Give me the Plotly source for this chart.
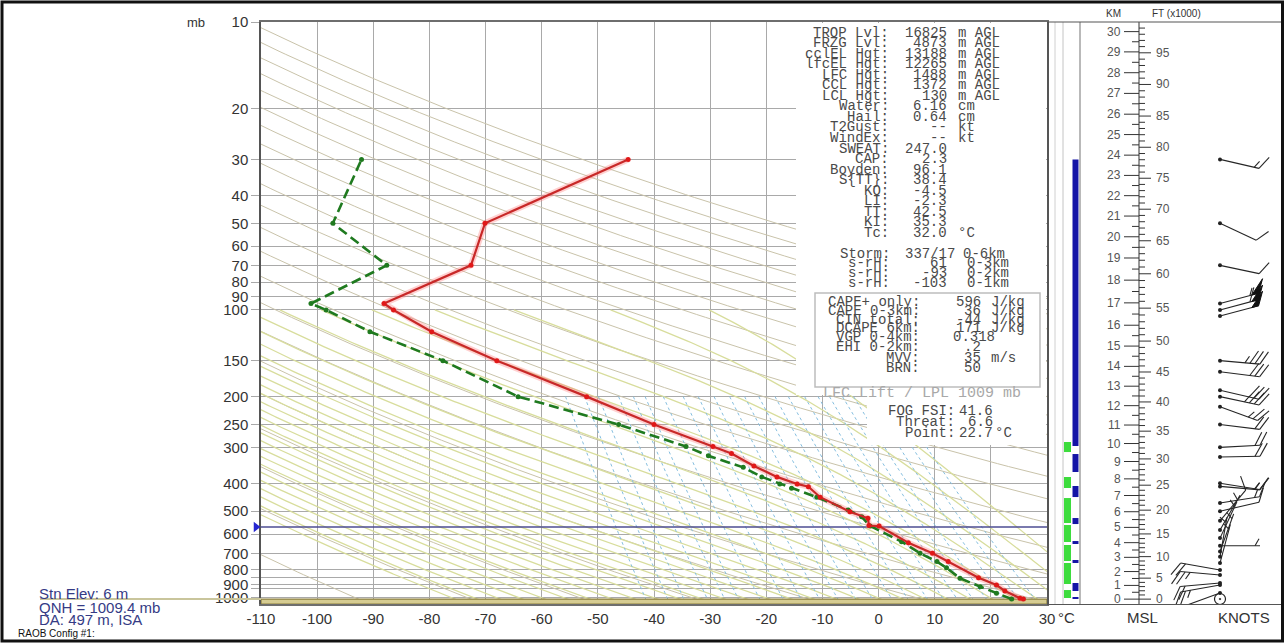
import numpy as np
import plotly.graph_objects as go

W, H = 1285, 643

# ---------------- sounding (pressure mb, temperature C) ----------------
T_P = [1009, 1003, 946, 902, 851, 748, 700, 643, 563, 561, 529, 502, 447, 411, 402, 380,
       348, 315, 298, 250, 200, 150, 119, 100, 95, 70, 50, 30]
T_C = [25.8, 25.2, 22.5, 21.0, 17.8, 12.4, 9.6, 5.3, 0.1, -1.7, -1.9, -5.1, -10.4, -12.5,
       -14.5, -18.1, -22.2, -26.2, -29.5, -40.0, -52.0, -68.0, -79.6, -86.4, -88.1, -72.6,
       -70.1, -44.6]
TD_P = [1009, 964, 914, 855, 786, 748, 700, 638, 563, 523, 495, 447, 416, 402, 380, 352,
        321, 298, 250, 200, 150, 119, 100, 95, 70, 50, 30]
TD_C = [23.7, 21.0, 18.1, 14.5, 12.1, 10.4, 7.4, 4.1, -1.5, -3.0, -5.4, -11.0, -15.5, -17.6,
        -20.8, -24.1, -30.3, -34.3, -46.3, -64.2, -77.6, -90.6, -98.4, -101.1, -87.6, -97.2,
        -92.1]

# ---------------- winds ----------------
WIND_P = [1009, 962, 902, 888, 833, 800, 757, 720, 690, 659, 620, 581, 540, 500, 468, 410,
          400, 324, 300, 250, 217, 200, 190, 164, 150, 105, 100, 95, 70, 50, 30]
WIND_DIR = [0, 250, 260, 265, 275, 280, 15, 10, 20, 90, 25, 30, 40, 77, 81, 95,
            99, 89, 87, 97, 110, 102, 103, 97, 95, 75, 75, 75, 102, 115, 103]
WIND_KT = [0, 15, 25, 20, 25, 20, 5, 5, 5, 5, 5, 5, 10, 10, 15, 15,
           15, 20, 20, 20, 25, 35, 30, 30, 35, 50, 60, 55, 10, 10, 15]

# ---------------- strip layers (pressure bottom / top) ----------------
GREEN_BOT = [311.5, 415.3, 549.5, 639.6, 744.6, 895, 1001]
GREEN_TOP = [287.4, 380.3, 450, 558.4, 655.2, 756.5, 939]
BLUE_BOT = [296.9, 365.4, 446.4, 554, 650, 756.5, 946.5, 1009]
BLUE_TOP = [30, 316.5, 408.7, 528, 634.6, 738.6, 887.8, 992.9]

# ---------------- height scale (km MSL -> pressure) ----------------
KM_LABELS = list(range(0, 31))
KM_P = [1010, 905, 810, 723, 643, 569, 502, 441, 386, 336, 291, 251, 215, 184, 157, 133.5,
        113, 94.5, 78.8, 66.0, 55.7, 47.2, 40.1, 34.1, 29.0, 24.6, 20.9, 17.7, 15.0, 12.7, 10.8]

P_TICKS = [10, 20, 30, 40, 50, 60, 70, 80, 90, 100, 150, 200, 250, 300, 400, 500, 600,
           700, 800, 900, 1000]
P_EXTRA = [850, 925]
T_TICKS = list(range(-110, 31, 10))

SURFACE_P = 1009.4
FRZ_P = 567

ROWS1 = [("TROP Lvl:", "16825", "m AGL"), ("FRZG Lvl:", "4873", "m AGL"),
         ("cclEL Hgt:", "13188", "m AGL"), ("lfcEL Hgt:", "12265", "m AGL"),
         ("LFC Hgt:", "1488", "m AGL"), ("CCL Hgt:", "1372", "m AGL"),
         ("LCL Hgt:", "130", "m AGL"), ("Water:", "6.16", "cm"), ("Hail:", "0.64", "cm"),
         ("T2Gust:", "--", "kt"), ("WindEx:", "--", "kt"), ("SWEAT:", "247.0", ""),
         ("CAP:", "2.3", ""), ("Boyden:", "96.1", ""), ("S{TT}:", "38.4", ""),
         ("KO:", "-4.5", ""), ("LI:", "-2.3", ""), ("TT:", "42.5", ""), ("KI:", "35.3", ""),
         ("Tc:", "32.0", "°C")]
ROWS2 = [("Storm:", "337/17", "0-6km"), ("s-rH:", "61", "0-3km"),
         ("s-rH:", "-93", "0-2km"), ("s-rH:", "-103", "0-1km")]
ROWS3 = [("CAPE+ only:", "596", "J/kg"), ("CAPE 0-3km:", "36", "J/kg"),
         ("CIN total:", "-44", "J/kg"), ("DCAPE 6km:", "171", "J/kg"),
         ("VGP 0-4km:", "0.318", ""), ("EHI 0-2km:", ".2", ""), ("MVV:", "35", "m/s"),
         ("BRN:", "50", "")]
ROWS4 = [("FOG FSI:", "41.6", ""), ("Threat:", "6.6", ""), ("Point:", "22.7", "°C")]

SANS = "Liberation Sans, Arial, sans-serif"
MONO = "Liberation Mono, Courier New, monospace"


def PX(x):
    return x / W


def PY(y):
    return 1 - y / H


XD = [PX(261), PX(1047)]
YD = [PY(604), PY(22)]
YR = [np.log10(1050), np.log10(10)]
K = (YR[0] - YR[1]) / ((YD[1] - YD[0]) * H)   # log10(p) per screen pixel


def pshift(p, dy):
    return 10 ** (np.log10(p) + dy * K)


def seg_trace(xs_list, ys_list, xa, ya, mode="lines", **line):
    X, Y = [], []
    for xs, ys in zip(xs_list, ys_list):
        X += list(xs) + [None]
        Y += list(ys) + [None]
    return go.Scatter(x=X, y=Y, mode=mode, line=line, xaxis=xa, yaxis=ya,
                      hoverinfo="skip", showlegend=False)


fig = go.Figure()

# ---------------- background thermodynamic lines ----------------
pp = np.geomspace(10, 1050, 200)
DRY_THETA = np.arange(180, 601, 20)
fig.add_trace(seg_trace([th * (pp / 1000) ** 0.2857 - 273.15 for th in DRY_THETA],
                        [pp] * len(DRY_THETA), "x", "y", color="#c9c3aa", width=1))


def dTdp(T, p):
    Tc = T - 273.15
    es = 6.112 * np.exp(17.67 * Tc / (Tc + 243.5))
    rs = 0.622 * es / (p - es)
    return (287.04 * T + 2.501e6 * rs) / (1005.7 + 2.501e6 ** 2 * rs * 0.622 / (287.04 * T * T)) / p


def integrate(T0, ps):
    Ts = [T0]
    for i in range(len(ps) - 1):
        p0, p1 = ps[i], ps[i + 1]
        h = p1 - p0
        T = Ts[-1]
        k1 = dTdp(T, p0)
        k2 = dTdp(T + h * k1 / 2, p0 + h / 2)
        k3 = dTdp(T + h * k2 / 2, p0 + h / 2)
        k4 = dTdp(T + h * k3, p1)
        Ts.append(T + h * (k1 + 2 * k2 + 2 * k3 + k4) / 6)
    return np.array(Ts)


THETA_W = np.arange(-76, 41, 4)
p_up = np.linspace(1000, 100, 451)
p_dn = np.linspace(1000, 1050, 26)
mx, my = [], []
for tw in THETA_W:
    up = integrate(tw + 273.15, p_up)
    dn = integrate(tw + 273.15, p_dn)
    mx.append(np.concatenate([dn[::-1], up[1:]]) - 273.15)
    my.append(np.concatenate([p_dn[::-1], p_up[1:]]))
fig.add_trace(seg_trace(mx, my, "x", "y", color="#d8dd9c", width=1.3))

MIX_W = [0.1, 0.15, 0.2, 0.3, 0.4, 0.5, 0.7, 1, 1.3, 1.7, 2.2, 2.8, 3.5, 4.5, 5.5, 7,
         8.5, 10, 12, 14, 17, 20, 24]
pm = np.geomspace(200, 1050, 40)
wx = []
for w in MIX_W:
    e = w * pm / (622 + w)
    lg = np.log(e / 6.112)
    wx.append(243.5 * lg / (17.67 - lg))
fig.add_trace(seg_trace(wx, [pm] * len(MIX_W), "x", "y", color="#86bfe0", width=1, dash="dot"))

# surface band
fig.add_trace(go.Scatter(x=[-110, 30, 30, -110, -110], y=[SURFACE_P, SURFACE_P, 1050, 1050, SURFACE_P],
                         mode="lines", fill="toself", fillcolor="#d6cc92",
                         line=dict(color="#8c7f3e", width=1.2), xaxis="x", yaxis="y",
                         hoverinfo="skip", showlegend=False))

# freezing level line
fig.add_trace(go.Scatter(x=[-110, 30], y=[FRZ_P, FRZ_P], mode="lines",
                         line=dict(color="#4d4d92", width=1.6), xaxis="x", yaxis="y",
                         hoverinfo="skip", showlegend=False))

# ---------------- profiles ----------------
fig.add_trace(go.Scatter(x=T_C, y=T_P, mode="lines", line=dict(color="rgba(255,120,120,0.35)", width=6),
                         xaxis="x", yaxis="y", hoverinfo="skip", showlegend=False))
fig.add_trace(go.Scatter(x=TD_C, y=TD_P, mode="lines+markers",
                         line=dict(color="#1f7a1f", width=2.6, dash="10px,5px"),
                         marker=dict(color="#1f7a1f", size=5), xaxis="x", yaxis="y",
                         hoverinfo="skip", showlegend=False))
fig.add_trace(go.Scatter(x=T_C, y=T_P, mode="lines+markers",
                         line=dict(color="#c82828", width=2.2),
                         marker=dict(color="#e01818", size=5), xaxis="x", yaxis="y",
                         hoverinfo="skip", showlegend=False))

# ---------------- right panel (x2/y2, x units = screen px) ----------------
fig.add_trace(seg_trace([[1067.5, 1067.5]] * len(GREEN_BOT),
                        [[b, t] for b, t in zip(GREEN_BOT, GREEN_TOP)], "x2", "y2",
                        color="#3ddc3d", width=7))
fig.add_trace(seg_trace([[1075.5, 1075.5]] * len(BLUE_BOT),
                        [[b, t] for b, t in zip(BLUE_BOT, BLUE_TOP)], "x2", "y2",
                        color="#1414a6", width=6))

lnkm = np.log10(KM_P)


def p_at_km(z):
    if z <= KM_LABELS[-1]:
        return 10 ** np.interp(z, KM_LABELS, lnkm)
    return 10 ** (lnkm[-1] + (lnkm[-1] - lnkm[-2]) * (z - KM_LABELS[-1]))


AX = 1139
tx, ty = [[AX, AX]], [[1050, 10]]
for z in KM_LABELS:
    tx.append([AX - 15, AX]); ty.append([KM_P[z]] * 2)
for z in np.arange(0.5, 30.6, 1.0):
    pz = p_at_km(z)
    if pz >= 10:
        tx.append([AX - 7, AX]); ty.append([pz] * 2)
for f in range(0, 101):
    pz = p_at_km(f * 0.3048)
    if pz >= 10:
        tx.append([AX, AX + (12 if f % 5 == 0 else 6)]); ty.append([pz] * 2)
fig.add_trace(seg_trace(tx, ty, "x2", "y2", color="#333333", width=1))

# wind barbs
bl_x, bl_y, fl_x, fl_y, dot_x, dot_y, calm_x, calm_y = [], [], [], [], [], [], [], []
X0, L = 1220.0, 40.0
rot = np.deg2rad(-60)
for p, d, s in zip(WIND_P, WIND_DIR, WIND_KT):
    if s <= 0:
        calm_x.append(X0); calm_y.append(p)
        continue
    th = np.deg2rad(d)
    ux, uy = np.sin(th), -np.cos(th)
    bx = ux * np.cos(rot) - uy * np.sin(rot)
    by = ux * np.sin(rot) + uy * np.cos(rot)
    dot_x.append(X0); dot_y.append(p)
    bl_x += [X0, X0 + ux * L, None]
    bl_y += [p, pshift(p, uy * L), None]
    n50 = s // 50
    rem = s - 50 * n50
    n10 = rem // 10
    n5 = (rem % 10) // 5
    pos = L
    for _ in range(n50):
        a = (ux * pos, uy * pos)
        b = (ux * (pos - 7), uy * (pos - 7))
        c = (ux * pos + bx * 15, uy * pos + by * 15)
        for q in (a, c, b, a):
            fl_x.append(X0 + q[0]); fl_y.append(pshift(p, q[1]))
        fl_x.append(None); fl_y.append(None)
        pos -= 9
    for _ in range(n10):
        bl_x += [X0 + ux * pos, X0 + ux * pos + bx * 15, None]
        bl_y += [pshift(p, uy * pos), pshift(p, uy * pos + by * 15), None]
        pos -= 5
    if n5:
        if n50 == 0 and n10 == 0:
            pos -= 5
        bl_x += [X0 + ux * pos, X0 + ux * pos + bx * 8, None]
        bl_y += [pshift(p, uy * pos), pshift(p, uy * pos + by * 8), None]

fig.add_trace(go.Scatter(x=bl_x, y=bl_y, mode="lines", line=dict(color="#262626", width=1.1),
                         xaxis="x2", yaxis="y2", hoverinfo="skip", showlegend=False))
fig.add_trace(go.Scatter(x=fl_x, y=fl_y, mode="lines", fill="toself", fillcolor="#111111",
                         line=dict(color="#111111", width=1), xaxis="x2", yaxis="y2",
                         hoverinfo="skip", showlegend=False))
fig.add_trace(go.Scatter(x=dot_x, y=dot_y, mode="markers", marker=dict(color="#222", size=4),
                         xaxis="x2", yaxis="y2", hoverinfo="skip", showlegend=False, cliponaxis=False))
fig.add_trace(go.Scatter(x=calm_x, y=calm_y, mode="markers",
                         marker=dict(color="rgba(0,0,0,0)", size=11, symbol="circle-dot",
                                     line=dict(color="#222", width=1.2)),
                         xaxis="x2", yaxis="y2", hoverinfo="skip", showlegend=False, cliponaxis=False))

# ---------------- left margin (x3/y3) ----------------
fig.add_trace(go.Scatter(x=[40, 261], y=[SURFACE_P, SURFACE_P], mode="lines",
                         line=dict(color="#c9c59c", width=2), xaxis="x3", yaxis="y3",
                         hoverinfo="skip", showlegend=False))
fig.add_trace(go.Scatter(x=[256], y=[FRZ_P], mode="markers",
                         marker=dict(symbol="triangle-right", color="#2626d0", size=9),
                         xaxis="x3", yaxis="y3", hoverinfo="skip", showlegend=False, cliponaxis=False))

# ---------------- annotations ----------------
ann = []


def txt(x, y, s, size=15, color="#333", family=SANS, xa="center", **kw):
    ann.append(dict(x=PX(x), y=PY(y), xref="paper", yref="paper", text=s, showarrow=False,
                    xanchor=xa, yanchor="middle", font=dict(size=size, color=color, family=family), **kw))


MC = "#4a4a4a"
MS = 14
for i, (lab, val, unit) in enumerate(ROWS1):
    y = 32.5 + i * 10.55
    txt(891, y, lab, MS, MC, MONO, "right")
    txt(949, y, val, MS, MC, MONO, "right")
    if unit:
        txt(956, y, unit, MS, MC, MONO, "left")
for i, (lab, val, unit) in enumerate(ROWS2):
    y = 253.5 + i * 9.8
    txt(892, y, lab, MS, MC, MONO, "right")
    txt(957 if i == 0 else 949, y, val, MS, MC, MONO, "right")
    txt(961 if i == 0 else 965, y, unit, MS, MC, MONO, "left")
ys3 = [301.5, 310.5, 319.5, 328, 337, 346.5, 358, 368]
for (lab, val, unit), y in zip(ROWS3, ys3):
    txt(922, y, lab, MS, MC, MONO, "right")
    txt(997 if val == "0.318" else 983, y, val, MS, MC, MONO, "right")
    if unit:
        txt(989, y, unit, MS, MC, MONO, "left")
txt(922, 393, "LFC Lift / LPL 1009 mb", 15, "#a8a8a8", MONO, "center")
for (lab, val, unit), y in zip(ROWS4, [411, 422, 433]):
    txt(957, y, lab, MS, MC, MONO, "right")
    txt(995, y, val, MS, MC, MONO, "right")
    if unit:
        txt(993, y, unit, MS, MC, MONO, "left")

txt(196, 22, "mb", 13, "#333")
txt(1113, 14, "KM", 10, "#333")
txt(1176, 14, "FT (x1000)", 10, "#333")
txt(1066, 617, "°C", 15, "#333")
txt(1142, 617, "MSL", 15, "#333")
txt(1244, 617, "KNOTS", 15, "#333")
txt(37, 593, "Stn Elev: 6 m", 15, "#353b85", SANS, "left")
txt(37, 607, "QNH = 1009.4 mb", 15, "#353b85", SANS, "left")
txt(37, 619, "DA: 497 m, ISA", 15, "#353b85", SANS, "left")
txt(16, 633, "RAOB Config #1:", 10, "#111", SANS, "left")

for z in KM_LABELS:
    ann.append(dict(x=1123, y=np.log10(KM_P[z]), xref="x2", yref="y2", text=str(z),
                    showarrow=False, xanchor="right", yanchor="middle",
                    font=dict(size=12, color="#555", family=SANS)))
for f in range(0, 101, 5):
    pz = p_at_km(f * 0.3048)
    if pz >= 10.5:
        ann.append(dict(x=1154, y=np.log10(pz), xref="x2", yref="y2", text=str(f),
                        showarrow=False, xanchor="left", yanchor="middle",
                        font=dict(size=12, color="#555", family=SANS)))

# ---------------- shapes (layout decoration) ----------------
shapes = []


def rect(x0, y0, x1, y1, fill=None, line=None, width=1, layer="above"):
    shapes.append(dict(type="rect", xref="paper", yref="paper", x0=PX(x0), x1=PX(x1),
                       y0=PY(y1), y1=PY(y0), fillcolor=fill or "rgba(0,0,0,0)",
                       line=dict(color=line or "rgba(0,0,0,0)", width=width), layer=layer))


def hline(x0, x1, y, color, width=1):
    shapes.append(dict(type="line", xref="paper", yref="paper", x0=PX(x0), x1=PX(x1),
                       y0=PY(y), y1=PY(y), line=dict(color=color, width=width), layer="above"))


def vline(x, y0, y1, color, width=1):
    shapes.append(dict(type="line", xref="paper", yref="paper", x0=PX(x), x1=PX(x),
                       y0=PY(y0), y1=PY(y1), line=dict(color=color, width=width), layer="below"))


rect(796, 23, 1046, 395, fill="white")
rect(867, 395, 1046, 445, fill="white")
rect(815, 293, 1040, 387, line="#bdbdbd", width=1.5)
vline(1055, 22, 604, "#d0d0d0")
vline(1063, 22, 604, "#c4c4c4")
vline(1080, 22, 604, "#8a8a8a", 1.2)
hline(1047, 1282, 22, "#555", 1.2)
hline(1047, 1282, 604.5, "#555", 1.2)
rect(2, 2, 1282.5, 641, line="#111", width=3)

fig.update_layout(
    width=W, height=H, margin=dict(l=0, r=0, t=0, b=0, pad=0, autoexpand=False), autosize=False,
    paper_bgcolor="white", plot_bgcolor="white", showlegend=False,
    annotations=ann, shapes=shapes,
    xaxis=dict(domain=XD, range=[-110, 30], tickvals=T_TICKS, ticktext=[str(t) for t in T_TICKS],
               showgrid=True, gridcolor="#a9a9a9", gridwidth=1.2, ticks="", zeroline=False,
               showline=True, linecolor="#6e6e6e", linewidth=1.5, mirror=True, automargin=False,
               tickfont=dict(size=15, color="#333", family=SANS), anchor="y", fixedrange=True),
    yaxis=dict(domain=YD, type="log", range=YR, tickvals=P_TICKS + P_EXTRA,
               ticktext=[str(p) for p in P_TICKS] + ["", ""],
               ticks="outside", ticklen=8, tickcolor="#a9a9a9", tickwidth=1.2,
               showgrid=True, gridcolor="#a9a9a9", gridwidth=1.2, zeroline=False,
               showline=True, linecolor="#555", linewidth=1.5, mirror=True, automargin=False,
               tickfont=dict(size=15, color="#333", family=SANS), anchor="x", fixedrange=True),
    xaxis2=dict(domain=[PX(1047), 1], range=[1047, 1285], visible=False, anchor="y2", fixedrange=True),
    yaxis2=dict(domain=YD, type="log", range=YR, visible=False, anchor="x2", fixedrange=True),
    xaxis3=dict(domain=[0, PX(261)], range=[0, 261], visible=False, anchor="y3", fixedrange=True),
    yaxis3=dict(domain=YD, type="log", range=YR, visible=False, anchor="x3", fixedrange=True),
)

fig.write_html("out.html", config={"displayModeBar": False},
               post_script="document.body.style.margin='0';document.body.style.overflow='hidden';")
